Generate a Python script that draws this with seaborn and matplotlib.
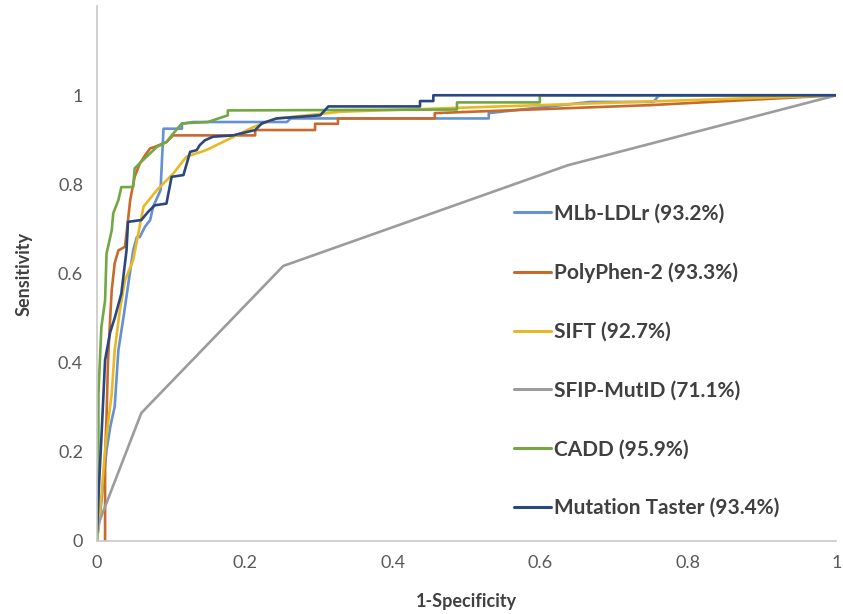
import pandas as pd
import matplotlib
matplotlib.use("Agg")
import matplotlib.pyplot as plt
import seaborn as sns

# ROC curve vertices (1-specificity, sensitivity)
mlb_fpr = [0, 0.004, 0.0085, 0.013, 0.018, 0.024, 0.029, 0.036, 0.049, 0.054, 0.058,
           0.065, 0.072, 0.076, 0.086, 0.090, 0.115, 0.115, 0.130, 0.257, 0.262,
           0.53, 0.53, 0.667, 0.753, 0.76, 1]
mlb_tpr = [0, 0.055, 0.13, 0.204, 0.256, 0.301, 0.428, 0.503, 0.652, 0.682, 0.682,
           0.705, 0.72, 0.75, 0.787, 0.925, 0.925, 0.936, 0.94, 0.94, 0.948,
           0.948, 0.96, 0.985, 0.985, 1.0, 1.0]

pph_fpr = [0.011, 0.011, 0.013, 0.015, 0.018, 0.020, 0.024, 0.029, 0.038, 0.042, 0.045,
           0.051, 0.058, 0.065, 0.072, 0.078, 0.094, 0.103, 0.214, 0.214, 0.295,
           0.295, 0.326, 0.326, 0.457, 0.457, 0.75, 1]
pph_tpr = [0, 0.19, 0.279, 0.406, 0.503, 0.563, 0.623, 0.652, 0.66, 0.72, 0.765,
           0.817, 0.847, 0.865, 0.881, 0.884, 0.895, 0.910, 0.910, 0.922, 0.922,
           0.936, 0.936, 0.948, 0.948, 0.960, 0.978, 1.0]

sift_fpr = [0, 0.006, 0.011, 0.015, 0.020, 0.024, 0.031, 0.038, 0.049, 0.063, 0.081,
            0.103, 0.121, 0.148, 0.18, 0.212, 0.243, 0.284, 0.329, 0.6, 1]
sift_tpr = [0, 0.1, 0.204, 0.264, 0.331, 0.428, 0.518, 0.585, 0.63, 0.75, 0.787,
            0.824, 0.862, 0.877, 0.903, 0.929, 0.948, 0.955, 0.963, 0.978, 1.0]

sfip_fpr = [0, 0.06, 0.252, 0.637, 1]
sfip_tpr = [0.03, 0.287, 0.617, 0.843, 1.0]

cadd_fpr = [0, 0.002, 0.002, 0.006, 0.011, 0.013, 0.020, 0.022, 0.029, 0.033, 0.049,
            0.051, 0.062, 0.069, 0.081, 0.094, 0.101, 0.115, 0.150, 0.150, 0.177,
            0.177, 0.487, 0.487, 0.599, 0.599, 1]
cadd_tpr = [0, 0.10, 0.33, 0.48, 0.54, 0.645, 0.697, 0.735, 0.765, 0.794, 0.794,
            0.836, 0.854, 0.865, 0.884, 0.895, 0.910, 0.937, 0.940, 0.940, 0.955,
            0.966, 0.968, 0.984, 0.984, 1.0, 1.0]

mt_fpr = [0, 0.002, 0.006, 0.011, 0.018, 0.024, 0.033, 0.040, 0.042, 0.060, 0.069,
          0.078, 0.094, 0.101, 0.117, 0.126, 0.135, 0.139, 0.146, 0.157, 0.184,
          0.214, 0.223, 0.243, 0.302, 0.313, 0.437, 0.437, 0.455, 0.455, 1]
mt_tpr = [0.02, 0.1, 0.23, 0.406, 0.469, 0.5, 0.555, 0.652, 0.716, 0.72, 0.738,
          0.753, 0.757, 0.817, 0.821, 0.873, 0.877, 0.888, 0.899, 0.907, 0.910,
          0.922, 0.937, 0.948, 0.955, 0.975, 0.975, 0.987, 0.987, 1.0, 1.0]

labels = ["MLb-LDLr (93.2%)", "PolyPhen-2 (93.3%)", "SIFT (92.7%)",
          "SFIP-MutID (71.1%)", "CADD (95.9%)", "Mutation Taster (93.4%)"]
colors = ["#6590D2", "#C96A2C", "#E8B923", "#9C9C9C", "#72A842", "#2A4880"]
tick_vals = [0, 0.2, 0.4, 0.6, 0.8, 1]
tick_labels = ["0", "0.2", "0.4", "0.6", "0.8", "1"]

curves = [(mlb_fpr, mlb_tpr), (pph_fpr, pph_tpr), (sift_fpr, sift_tpr),
          (sfip_fpr, sfip_tpr), (cadd_fpr, cadd_tpr), (mt_fpr, mt_tpr)]
frames = []
for name, (fx, fy) in zip(labels, curves):
    frames.append(pd.DataFrame({"fpr": fx, "tpr": fy, "model": name}))
df = pd.concat(frames, ignore_index=True)

sns.set_style("white")
plt.rcParams["font.family"] = ["Lato", "DejaVu Sans"]

fig = plt.figure(figsize=(8.43, 6.14), dpi=100)
ax = fig.add_axes([0.115, 0.119, 0.877, 0.871])

sns.lineplot(data=df, x="fpr", y="tpr", hue="model", hue_order=labels,
             palette=colors, sort=False, estimator=None, linewidth=1.9, ax=ax)

ax.set_xlim(0, 1)
ax.set_ylim(0, 1.2)
ax.set_xticks(tick_vals)
ax.set_xticklabels(tick_labels)
ax.set_yticks(tick_vals)
ax.set_yticklabels(tick_labels)
ax.tick_params(length=0, labelsize=13, labelcolor="#595959", pad=10)

for side in ["top", "right"]:
    ax.spines[side].set_visible(False)
for side in ["left", "bottom"]:
    ax.spines[side].set_color("#C8C8C8")
    ax.spines[side].set_linewidth(1.2)

ax.set_xlabel("1-Specificity", fontsize=13, fontweight="bold", color="#404040", labelpad=16)
ax.set_ylabel("Sensitivity", fontsize=13, fontweight="bold", color="#404040", labelpad=18)

leg = ax.legend(loc="upper left", bbox_to_anchor=(0.55, 0.65), frameon=False,
                prop={"size": 15, "weight": "bold"}, labelspacing=1.86,
                handlelength=1.8, handletextpad=0.1, borderpad=0)
for t in leg.get_texts():
    t.set_color("#404040")
for h in leg.get_lines():
    h.set_linewidth(2.2)

fig.savefig("out.png", dpi=100)
